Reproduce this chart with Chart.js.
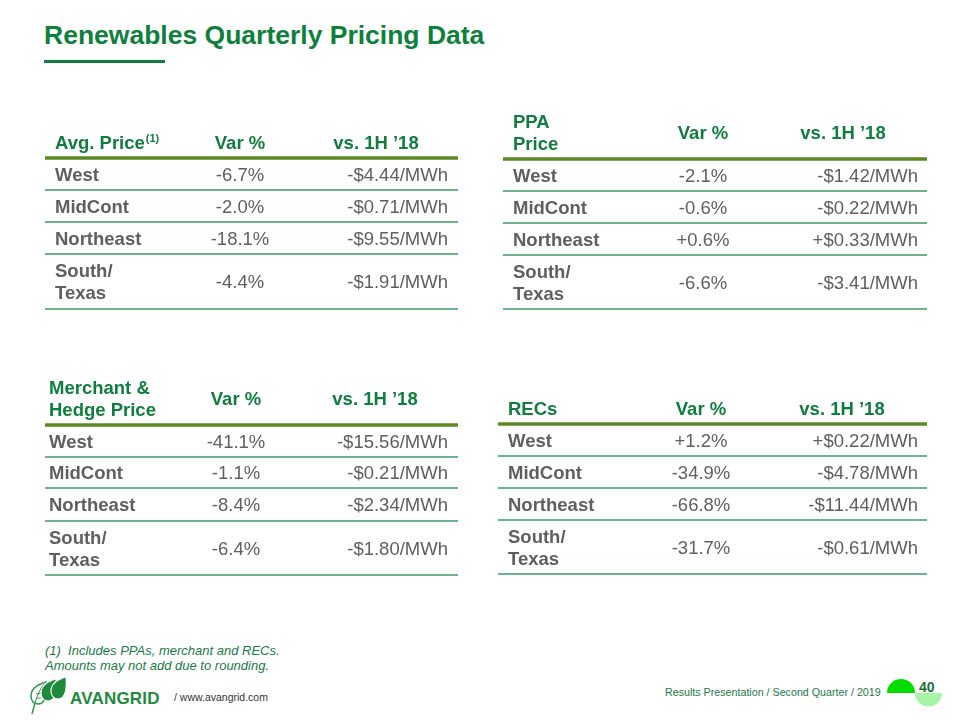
<!DOCTYPE html>
<html>
<head>
<meta charset="utf-8">
<title>Renewables Quarterly Pricing Data</title>
<script src="https://cdn.jsdelivr.net/npm/chart.js@4.4.1/dist/chart.umd.min.js"></script>
<style>
  body { margin: 0; background: #fff; font-family: "Liberation Sans", Arial, sans-serif; }
  #slide { position: relative; width: 960px; height: 720px; overflow: hidden; background: #fff; }
  .abs { position: absolute; white-space: nowrap; line-height: 1; }
  canvas { position: absolute; }
</style>
</head>
<body>
<div id="slide">
  <div class="abs" style="left:44px;top:22px;font-size:26.5px;font-weight:bold;color:#0e7f3c;">Renewables Quarterly Pricing Data</div>
  <div style="position:absolute;left:44px;top:60px;width:121px;height:3px;background:#0e7f3c;"></div>

  <canvas id="avgTable"></canvas>
  <canvas id="ppaTable"></canvas>
  <canvas id="merchantTable"></canvas>
  <canvas id="recTable"></canvas>

  <div class="abs" style="left:45px;top:643px;font-size:13px;line-height:15px;font-style:italic;color:#1a7a45;">(1)&nbsp;&nbsp;Includes PPAs, merchant and RECs.<br>Amounts may not add due to rounding.</div>

  <svg style="position:absolute;left:28px;top:674px;" width="46" height="42" viewBox="0 0 46 42">
    <path transform="translate(3,8)" d="M15,0 C16,10 15,22 7.5,22 C2,22 0,18 0,14 C0,6 8,2 15,0 Z" fill="#fff" stroke="#2e9a4a" stroke-width="1.5"/>
    <path d="M7,29 C9,22 12,15 16,10 M9,24 L13,24 M8,20 L14,19" stroke="#2e9a4a" stroke-width="1" fill="none"/>
    <path d="M7,29 C6,33 5,36 4,40" stroke="#2e9a4a" stroke-width="1.5" fill="none"/>
    <path transform="translate(13,5)" d="M15,0 C16,10 15,22 7.5,22 C2,22 0,18 0,14 C0,6 8,2 15,0 Z" fill="#1f8a3c" stroke="#fff" stroke-width="1.2"/>
    <path transform="translate(23,3)" d="M15,0 C16,10 15,22 7.5,22 C2,22 0,18 0,14 C0,6 8,2 15,0 Z" fill="#1f8a3c" stroke="#fff" stroke-width="1.2"/>
  </svg>
  <div class="abs" style="left:70px;top:690px;font-size:17px;font-weight:bold;color:#1f8a3c;letter-spacing:0.2px;">AVANGRID</div>
  <div class="abs" style="left:174px;top:692px;font-size:10.5px;color:#333;">/ www.avangrid.com</div>

  <div class="abs" style="left:665px;top:687px;font-size:10.7px;color:#1a7a45;">Results Presentation / Second Quarter / 2019</div>
  <svg style="position:absolute;left:880px;top:675px;" width="70" height="40" viewBox="880 675 70 40">
    <path d="M887,693 A14,14 0 0 1 915,693 Z" fill="#00dd00"/>
    <path d="M915,693 A13.5,13.5 0 0 0 942,693 Z" fill="#a6f5a6"/>
  </svg>
  <div class="abs" style="left:919px;top:680px;font-size:14px;font-weight:bold;color:#1b6e3b;">40</div>
</div>

<script>
// rows shared by all four tables
const regions = ["West", "MidCont", "Northeast", ["South/", "Texas"]];
const columnHeaders = ["Var %", "vs. 1H \u201918"];

// Avg. Price
const avgVarPct = [-6.7, -2.0, -18.1, -4.4];
const avgVsPrior = [-4.44, -0.71, -9.55, -1.91];

// PPA Price
const ppaVarPct = [-2.1, -0.6, 0.6, -6.6];
const ppaVsPrior = [-1.42, -0.22, 0.33, -3.41];

// Merchant & Hedge Price
const merchantVarPct = [-41.1, -1.1, -8.4, -6.4];
const merchantVsPrior = [-15.56, -0.21, -2.34, -1.80];

// RECs
const recVarPct = [1.2, -34.9, -66.8, -31.7];
const recVsPrior = [0.22, -4.78, -11.44, -0.61];

const GREEN_HEAD = "#0e7d3d";
const GRAY_TEXT = "#5f5f5f";
const RULE_THICK = "#5b8a24";
const RULE_THIN = "#3e9a63";
const FONT = "'Liberation Sans', Arial, sans-serif";

function sign(v) { return v > 0 ? "+" : (v < 0 ? "-" : ""); }
function fmtPct(v) { return sign(v) + Math.abs(v).toFixed(1) + "%"; }
function fmtMWh(v) { return sign(v) + "$" + Math.abs(v).toFixed(2) + "/MWh"; }

// draws the table onto the chart canvas, in page coordinates
function makeTablePlugin(lay) {
  return {
    id: "pricingTable",
    afterDraw(chart) {
      const ctx = chart.ctx;
      const labels = chart.data.labels;
      const pct = chart.data.datasets[0].data;
      const vs = chart.data.datasets[1].data;
      ctx.save();
      ctx.translate(-lay.ox, -lay.oy);
      ctx.textBaseline = "alphabetic";

      // header
      ctx.fillStyle = GREEN_HEAD;
      ctx.font = "bold 18.5px " + FONT;
      const n = lay.title.length;
      const lastBase = lay.lineY - 9.5;
      const heads = lay.title.map((t, i) => lastBase - (n - 1 - i) * 22);
      ctx.textAlign = "left";
      lay.title.forEach((t, i) => ctx.fillText(t, lay.labelX, heads[i]));
      if (lay.sup) {
        const w = ctx.measureText(lay.title[n - 1]).width;
        ctx.font = "bold 11px " + FONT;
        ctx.fillText(lay.sup, lay.labelX + w + 1, heads[n - 1] - 7);
        ctx.font = "bold 18.5px " + FONT;
      }
      const midBase = (heads[0] + heads[n - 1]) / 2;
      ctx.textAlign = "center";
      ctx.fillText(columnHeaders[0], lay.varCX, midBase);
      ctx.fillText(columnHeaders[1], lay.vsCX, midBase);

      // thick header rule
      ctx.strokeStyle = RULE_THICK;
      ctx.lineWidth = 3.5;
      ctx.beginPath();
      ctx.moveTo(lay.left, lay.lineY);
      ctx.lineTo(lay.right, lay.lineY);
      ctx.stroke();

      // rows
      let top = lay.lineY;
      labels.forEach((lab, i) => {
        const h = lay.rowH[i];
        const mid = top + h / 2 + 6.5;
        const lines = Array.isArray(lab) ? lab : [lab];
        ctx.fillStyle = GRAY_TEXT;
        ctx.font = "bold 18.5px " + FONT;
        ctx.textAlign = "left";
        lines.forEach((l, j) => {
          ctx.fillText(l, lay.labelX, mid + (j - (lines.length - 1) / 2) * 22);
        });
        ctx.font = "18.5px " + FONT;
        ctx.textAlign = "center";
        ctx.fillText(fmtPct(pct[i]), lay.varCX, mid);
        ctx.textAlign = "right";
        ctx.fillText(fmtMWh(vs[i]), lay.valRX, mid);

        top += h;
        ctx.strokeStyle = RULE_THIN;
        ctx.lineWidth = 1.6;
        ctx.beginPath();
        ctx.moveTo(lay.left, top);
        ctx.lineTo(lay.right, top);
        ctx.stroke();
      });
      ctx.restore();
    }
  };
}

function buildTable(id, varPct, vsPrior, lay) {
  const canvas = document.getElementById(id);
  lay.ox = lay.left - 8;
  lay.oy = lay.lineY - 75;
  const w = lay.right - lay.left + 16;
  const h = 75 + lay.rowH.reduce((a, b) => a + b, 0) + 8;
  canvas.width = w;
  canvas.height = h;
  canvas.style.width = w + "px";
  canvas.style.height = h + "px";
  canvas.style.left = lay.ox + "px";
  canvas.style.top = lay.oy + "px";

  return new Chart(canvas, {
    type: "bar",
    data: {
      labels: regions,
      datasets: [
        { label: columnHeaders[0], data: varPct, backgroundColor: "transparent" },
        { label: columnHeaders[1], data: vsPrior, backgroundColor: "transparent" }
      ]
    },
    options: {
      indexAxis: "y",
      responsive: false,
      animation: false,
      devicePixelRatio: 1,
      layout: { padding: 0 },
      scales: { x: { display: false }, y: { display: false } },
      plugins: { legend: { display: false }, tooltip: { enabled: false } }
    },
    plugins: [makeTablePlugin(lay)]
  });
}

buildTable("avgTable", avgVarPct, avgVsPrior, {
  title: ["Avg. Price"], sup: "(1)",
  left: 45, right: 458, lineY: 158, labelX: 55, varCX: 240, vsCX: 376, valRX: 448,
  rowH: [32, 32, 32, 55]
});
buildTable("ppaTable", ppaVarPct, ppaVsPrior, {
  title: ["PPA", "Price"],
  left: 503, right: 927, lineY: 159, labelX: 513, varCX: 703, vsCX: 843, valRX: 918,
  rowH: [32, 32, 32, 54]
});
buildTable("merchantTable", merchantVarPct, merchantVsPrior, {
  title: ["Merchant &", "Hedge Price"],
  left: 45, right: 458, lineY: 425, labelX: 49, varCX: 236, vsCX: 375, valRX: 448,
  rowH: [32, 31, 33, 54]
});
buildTable("recTable", recVarPct, recVsPrior, {
  title: ["RECs"],
  left: 498, right: 927, lineY: 424, labelX: 508, varCX: 701, vsCX: 842, valRX: 918,
  rowH: [32, 32, 32, 54]
});
</script>
</body>
</html>
